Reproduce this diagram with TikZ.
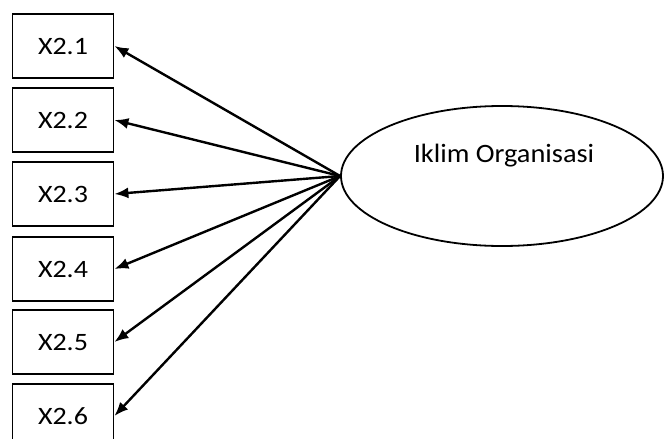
\documentclass[tikz,border=0pt]{standalone}
\usepackage{fontspec}
\setmainfont{Carlito}
\newfontfamily\boxfont[FakeStretch=1.12]{Carlito}
\newfontfamily\ellfont[FakeStretch=1.07]{Carlito}
\usetikzlibrary{arrows.meta,shapes.geometric}
\begin{document}
\begin{tikzpicture}[x=1pt,y=-1pt,
  ind/.style={draw,line width=1.8pt,minimum width=101pt,minimum height=64pt,inner sep=0pt,font=\boxfont\fontsize{25}{28}\selectfont},
  lat/.style={draw,line width=1.8pt,ellipse,minimum width=322pt,minimum height=140pt,inner sep=0pt},
  link/.style={line width=2.4pt,-{Latex[length=14pt,width=11pt]}}]
\clip (0,0) rectangle (664,439);
\useasboundingbox (0,0) rectangle (664,439);
\node[lat] (f) at (502,176) {};
\node[font=\ellfont\fontsize{26.5}{30}\selectfont,anchor=base,inner sep=0pt] (ft) at (504,162) {Iklim Organisasi};
\node[ind] (x1) at (63,46) {X2.1};
\node[ind] (x2) at (63,120) {X2.2};
\node[ind] (x3) at (63,194) {X2.3};
\node[ind] (x4) at (63,269) {X2.4};
\node[ind] (x5) at (63,342) {X2.5};
\node[ind] (x6) at (63,416) {X2.6};
\foreach \i in {1,...,6}{
  \draw[link] (f.west) -- (x\i.east);
}
\end{tikzpicture}
\end{document}
